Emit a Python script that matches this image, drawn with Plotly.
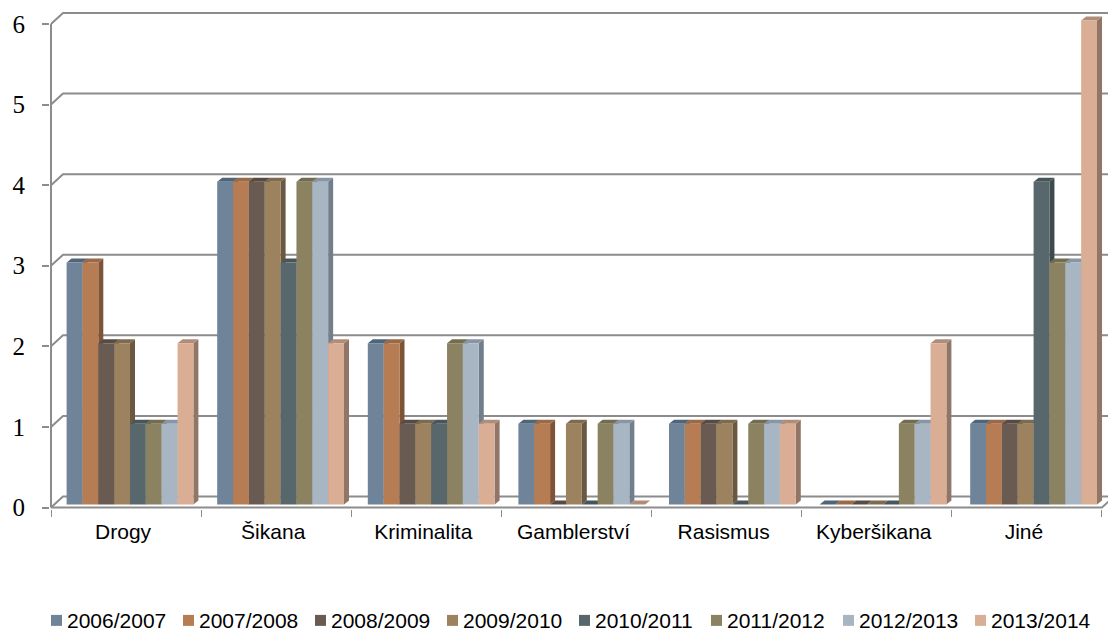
import plotly.graph_objects as go

categories = ['Drogy', 'Šikana', 'Kriminalita', 'Gamblerství', 'Rasismus', 'Kyberšikana', 'Jiné']
y_ticks = [0, 1, 2, 3, 4, 5, 6]

s2006 = [3, 4, 2, 1, 1, 0, 1]
s2007 = [3, 4, 2, 1, 1, 0, 1]
s2008 = [2, 4, 1, 0, 1, 0, 1]
s2009 = [2, 4, 1, 1, 1, 0, 1]
s2010 = [1, 3, 1, 0, 0, 0, 4]
s2011 = [1, 4, 2, 1, 1, 1, 3]
s2012 = [1, 4, 2, 1, 1, 1, 3]
s2013 = [2, 2, 1, 0, 1, 2, 6]

names = ['2006/2007', '2007/2008', '2008/2009', '2009/2010',
         '2010/2011', '2011/2012', '2012/2013', '2013/2014']
series = [s2006, s2007, s2008, s2009, s2010, s2011, s2012, s2013]

front = ['#6F8399', '#B67C53', '#6A5B52', '#9C825F', '#57676B', '#8A8261', '#A8B6C4', '#DAAE95']
side = ['#56687C', '#7D5436', '#4E433C', '#6B5840', '#3E4B4E', '#615C44', '#717E8B', '#917667']
top = ['#4F6579', '#9A6946', '#574B43', '#7F6A4D', '#46565A', '#736C4F', '#8795A4', '#B18D79']

WIDTH, HEIGHT = 1108, 632
LEFT, BOTTOM = 50, 509.5       # plot area edges in px
AXIS_X, AXIS_Y = 51, 508       # front corner of the chart box
TICK_PX_X, TICK_PX_Y = 150.14, 80.67
BAR_X0, BAR_PX_X = 130, 150.6  # centre of first bar group, group spacing
BAR_Y0, BAR_PX_Y = 505, 80.75
GRID = '#8C8C8C'

bargap = 0.158
bar_w = (1 - bargap) / len(series)
depth_x, depth_y = 5 / BAR_PX_X, 4 / BAR_PX_Y
wall_x, wall_y = 12 / TICK_PX_X, 11 / TICK_PX_Y

fig = go.Figure()
shapes = []

# back wall, floor and axis line of the fake 3D box
x_start = -0.5
x_end = x_start + len(categories)
right_edge = x_start + (WIDTH - AXIS_X) / TICK_PX_X + 0.1
for t in y_ticks:
    path = f'M{x_start},{t} L{x_start + wall_x},{t + wall_y} L{right_edge},{t + wall_y}'
    shapes.append(dict(type='path', xref='x', yref='y', layer='below', path=path,
                       line=dict(color=GRID, width=2)))
shapes.append(dict(type='line', xref='x', yref='y', layer='below',
                   x0=x_start, x1=x_start, y0=0, y1=y_ticks[-1], line=dict(color=GRID, width=2)))
shapes.append(dict(type='path', xref='x', yref='y', layer='below',
                   path=f'M{x_start},0 L{x_end},0 L{x_end + wall_x},{wall_y}',
                   line=dict(color=GRID, width=2)))

# side and top faces, left to right so short tops lie over taller sides
for i in range(len(categories)):
    for j, vals in enumerate(series):
        v = vals[i]
        x0 = i + (j - len(series) / 2) * bar_w
        x1 = x0 + bar_w
        if v > 0:
            shapes.append(dict(type='path', xref='x2', yref='y2', layer='below', line_width=0,
                               fillcolor=side[j],
                               path=f'M{x1},{v} L{x1 + depth_x},{v + depth_y} L{x1 + depth_x},{depth_y} L{x1},0 Z'))
        shapes.append(dict(type='path', xref='x2', yref='y2', layer='below', line_width=0,
                           fillcolor=top[j],
                           path=f'M{x0},{v} L{x0 + depth_x},{v + depth_y} L{x1 + depth_x},{v + depth_y} L{x1},{v} Z'))

for j, vals in enumerate(series):
    fig.add_trace(go.Bar(x=list(range(len(categories))), y=vals, name=names[j],
                         marker=dict(color=front[j], line_width=0),
                         xaxis='x2', yaxis='y2', showlegend=False))

# legend row: small squares and text, placed like the original
annotations = []
LEG_X0, LEG_STEP, LEG_Y, LEG_BOX = 51, 132, 621, 11
for j, name in enumerate(names):
    bx = LEG_X0 + j * LEG_STEP
    shapes.append(dict(type='rect', xref='paper', yref='paper', line_width=0, fillcolor=front[j],
                       x0=(bx - LEFT) / (WIDTH - LEFT), x1=(bx + LEG_BOX - LEFT) / (WIDTH - LEFT),
                       y0=(BOTTOM - LEG_Y - LEG_BOX / 2) / BOTTOM, y1=(BOTTOM - LEG_Y + LEG_BOX / 2) / BOTTOM))
    annotations.append(dict(xref='paper', yref='paper', showarrow=False, xanchor='left', yanchor='middle',
                            x=(bx + LEG_BOX - LEFT) / (WIDTH - LEFT), y=(BOTTOM - LEG_Y) / BOTTOM,
                            xshift=3, text=name, font=dict(size=21, color='black')))

fig.update_layout(
    width=WIDTH, height=HEIGHT,
    margin=dict(l=LEFT, r=0, t=0, b=HEIGHT - BOTTOM, pad=0),
    plot_bgcolor='white', paper_bgcolor='white',
    barmode='group', bargap=bargap, bargroupgap=0,
    font=dict(family='Liberation Sans', color='black'),
    shapes=shapes, annotations=annotations,
    xaxis=dict(type='category', categoryorder='array', categoryarray=categories,
               range=[x_start - (AXIS_X - LEFT) / TICK_PX_X, x_start + (WIDTH - AXIS_X) / TICK_PX_X],
               tickson='boundaries', ticks='outside', ticklen=7, tickwidth=1, tickcolor=GRID,
               tickfont=dict(size=21), ticklabelshift=-3, ticklabelstandoff=8,
               showgrid=False, showline=False, zeroline=False, anchor='y'),
    yaxis=dict(range=[(AXIS_Y - BOTTOM) / TICK_PX_Y, AXIS_Y / TICK_PX_Y],
               tickvals=y_ticks, ticks='outside', ticklen=7, tickwidth=2, tickcolor=GRID,
               tickfont=dict(family='Liberation Serif', size=25), ticklabelstandoff=12,
               showgrid=False, showline=False, zeroline=False, anchor='x'),
    xaxis2=dict(overlaying='x', anchor='y2', visible=False,
                range=[(LEFT - BAR_X0) / BAR_PX_X, (WIDTH - BAR_X0) / BAR_PX_X]),
    yaxis2=dict(overlaying='y', anchor='x2', visible=False,
                range=[(BAR_Y0 - BOTTOM) / BAR_PX_Y, BAR_Y0 / BAR_PX_Y]),
)

# page margin would push the fixed-size plot off the window
fig.write_html('out.html', config=dict(displayModeBar=False),
               post_script="document.body.style.margin='0';")
